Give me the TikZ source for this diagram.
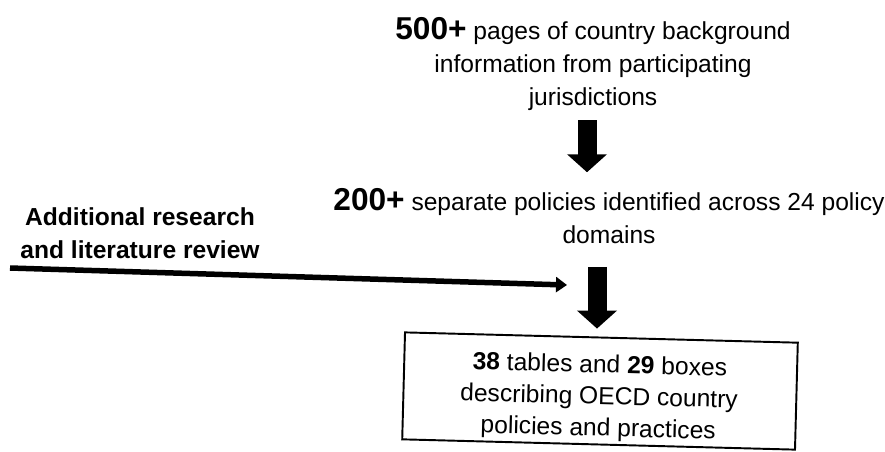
\documentclass[tikz,border=0pt]{standalone}
\usepackage{fontspec}
\setmainfont{Liberation Sans}
\usetikzlibrary{arrows.meta}

\newcommand{\bignum}[1]{{\fontsize{18}{18}\selectfont\bfseries #1}}

\tikzset{
	txt/.style={align=center, inner sep=0pt, font=\fontsize{14}{18.5}\selectfont},
	blockarrow/.style={line width=0.38cm, -{Triangle[width=0.78cm,length=0.36cm]}},
	litarrow/.style={line width=0.11cm, -{Triangle[width=0.3cm,length=0.22cm]}}
}

\begin{document}
\begin{tikzpicture}[x=0.02cm,y=-0.02cm]
				\useasboundingbox (0,0) rectangle (885,451);
				
				% text blocks
				\node[txt] (pages) at (593,64)
				{\bignum{500+} pages of country background\\information from participating\\jurisdictions};
				\node[txt] (policies) at (609,216)
				{\bignum{200+} separate policies identified across 24 policy\\domains};
				\node[txt, font=\fontsize{14}{19}\selectfont\bfseries] (research) at (140,233)
				{Additional research\\and literature review};
				
				% output box
				\node[draw, line width=1.1pt, minimum width=7.86cm, minimum height=2.14cm,
				rotate=-1.5] (tablebox) at (600,391) {};
				\node[txt, font=\fontsize{14}{18}\selectfont, rotate=-1.5] (tables) at (599,398)
				{\textbf{38} tables and \textbf{29} boxes\\describing OECD country\\policies and practices};
				
				% arrows
				\coordinate (ax1) at (587,0);
				\coordinate (ax2) at (597,0);
				\coordinate (lit) at (10,268);
				\coordinate (merge) at (567,285);
				\draw[blockarrow, shorten <=0.2cm, shorten >=0.32cm] (pages.south -| ax1) -- (policies.north -| ax1);
				\draw[blockarrow, shorten <=0.46cm, shorten >=0.16cm] (policies.south -| ax2) -- (tablebox.north -| ax2);
				\draw[litarrow] (lit) -- (merge);
			\end{tikzpicture}
\end{document}
